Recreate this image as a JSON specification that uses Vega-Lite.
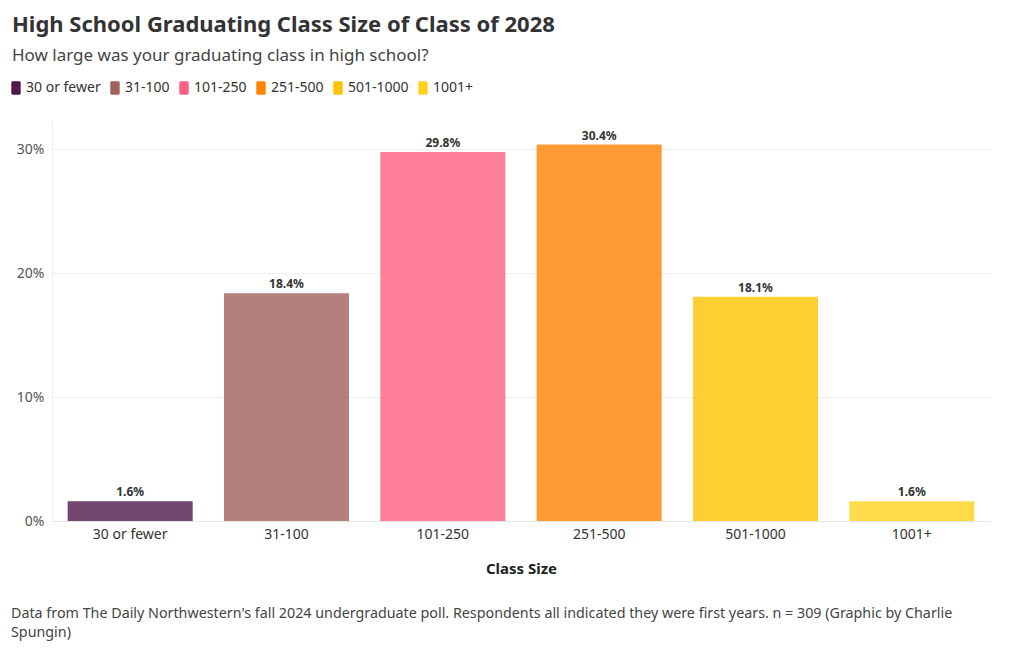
{
  "$schema": "https://vega.github.io/schema/vega-lite/v6.json",
  "background": "white",
  "padding": {"left": 9, "top": 14, "right": 5, "bottom": 5},
  "config": {
    "font": "Noto Sans",
    "view": {"stroke": null},
    "concat": {"spacing": 0}
  },
  "title": {
    "text": "High School Graduating Class Size of Class of 2028",
    "subtitle": "How large was your graduating class in high school?",
    "anchor": "start",
    "dx": 3,
    "fontSize": 22,
    "fontWeight": "bold",
    "color": "#333333",
    "subtitleFontSize": 17,
    "subtitleColor": "#444444",
    "subtitlePadding": 11,
    "offset": 16
  },
  "data": {
    "values": [
      {"size": "30 or fewer", "pct": 0.016},
      {"size": "31-100", "pct": 0.184},
      {"size": "101-250", "pct": 0.298},
      {"size": "251-500", "pct": 0.304},
      {"size": "501-1000", "pct": 0.181},
      {"size": "1001+", "pct": 0.016}
    ]
  },
  "vconcat": [
    {
      "width": 938,
      "height": 400,
      "title": {
        "text": ["Data from The Daily Northwestern's fall 2024 undergraduate poll. Respondents all indicated they were first years. n = 309 (Graphic by Charlie", "Spungin)"],
        "orient": "bottom",
        "anchor": "start",
        "fontSize": 14.3,
        "fontWeight": "normal",
        "color": "#444444",
        "lineHeight": 19,
        "offset": 31,
        "frame": "group",
        "dx": -41
      },
      "encoding": {
        "x": {
          "field": "size",
          "type": "nominal",
          "sort": null,
          "scale": {"paddingInner": 0.2, "paddingOuter": 0.1},
          "axis": {
            "title": "Class Size",
            "titleFontSize": 15,
            "titleFontWeight": "bold",
            "titleColor": "#222222",
            "titlePadding": 20,
            "labelAngle": 0,
            "labelFontSize": 14,
            "labelColor": "#333333",
            "labelPadding": 6,
            "ticks": false,
            "domainColor": "#e6e6e6",
            "grid": false
          }
        },
        "y": {
          "field": "pct",
          "type": "quantitative",
          "scale": {"domain": [0, 0.323], "nice": false},
          "axis": {
            "title": null,
            "values": [0, 0.1, 0.2, 0.3],
            "format": ".0%",
            "labelFontSize": 14,
            "labelColor": "#555555",
            "labelPadding": 8,
            "ticks": false,
            "domain": true,
            "domainColor": "#eeeeee",
            "gridColor": "#eeeeee"
          }
        }
      },
      "layer": [
        {
          "mark": {"type": "bar", "opacity": 0.8},
          "encoding": {
            "color": {
              "field": "size",
              "type": "nominal",
              "sort": null,
              "scale": {
                "domain": ["30 or fewer", "31-100", "101-250", "251-500", "501-1000", "1001+"],
                "range": ["#50184b", "#a2605a", "#ff5f81", "#fe8300", "#fdc300", "#fdd31d"]
              },
              "legend": {
                "title": null,
                "orient": "none",
                "legendX": -43,
                "legendY": -40,
                "direction": "horizontal",
                "labelFontSize": 14,
                "labelColor": "#333333",
                "labelOffset": 3,
                "columnPadding": 7,
                "symbolType": "M -0.5 -1 H 0.5 Q 0.7 -1 0.7 -0.8 V 0.8 Q 0.7 1 0.5 1 H -0.5 Q -0.7 1 -0.7 0.8 V -0.8 Q -0.7 -1 -0.5 -1 Z",
                "symbolSize": 180,
                "symbolOpacity": 1,
                "symbolStrokeWidth": 0
              }
            }
          }
        },
        {
          "mark": {"type": "text", "dy": -9, "fontSize": 12, "fontWeight": "bold", "color": "#333333"},
          "encoding": {
            "text": {"field": "pct", "type": "quantitative", "format": ".1%"}
          }
        }
      ]
    }
  ]
}
